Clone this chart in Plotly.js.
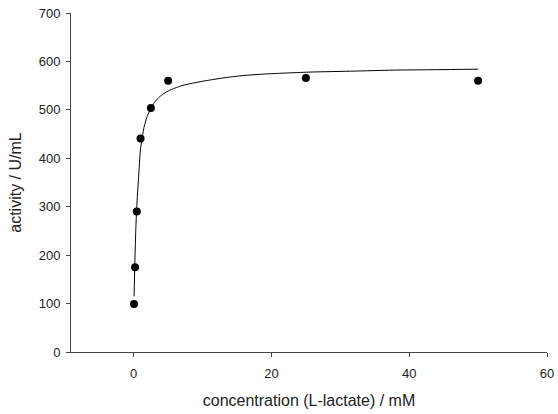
<!DOCTYPE html>
<html>
<head>
<meta charset="utf-8">
<script src="https://cdn.plot.ly/plotly-3.0.1.min.js"></script>
<style>html,body{margin:0;padding:0;background:#fff}#chart{width:558px;height:414px}</style>
</head>
<body>
<div id="chart"></div>
<script>
// measured data points
var concX = [0.05, 0.2, 0.45, 1, 2.5, 5, 25, 50];
var activityY = [99, 175, 290, 441, 504, 560, 566, 560];
// fitted curve
var fitX = [0.06, 0.15, 0.3, 0.45, 0.7, 1.0, 1.5, 2.0, 2.5, 3.0, 3.6, 4.2, 5.0, 6.0, 7.0, 8.5, 10, 13, 16, 19, 25.6, 32, 37.5, 44, 50];
var fitY = [115, 175, 250, 302, 358, 420, 464, 488, 503, 515, 525, 532, 539, 545, 550, 555, 559, 566, 571, 574, 578, 580, 582, 583, 584];
var xTicks = [0, 20, 40, 60];
var yTicks = [0, 100, 200, 300, 400, 500, 600, 700];

var traces = [
  {x: fitX, y: fitY, type: 'scatter', mode: 'lines',
   line: {color: '#000', width: 1, shape: 'spline', smoothing: 0.5}, hoverinfo: 'skip'},
  {x: concX, y: activityY, type: 'scatter', mode: 'markers',
   marker: {color: '#000', size: 8}}
];
var fam = 'Liberation Sans, Arial, sans-serif';
var layout = {
  width: 558, height: 414,
  margin: {l: 70.5, r: 10.7, t: 13.3, b: 61.7},
  paper_bgcolor: '#fff', plot_bgcolor: '#fff',
  showlegend: false,
  font: {family: fam, size: 13, color: '#222'},
  xaxis: {
    range: [-9.1, 60], tickvals: xTicks, ticktext: xTicks.map(String),
    showgrid: false, zeroline: false, showline: true, linecolor: '#444', linewidth: 1,
    ticks: 'outside', ticklen: 4, tickcolor: '#444', ticklabelstandoff: 5,
    tickfont: {family: fam, size: 13, color: '#222'},
    title: {text: 'concentration (L-lactate) / mM', font: {family: fam, size: 16, color: '#222'}, standoff: 15}
  },
  yaxis: {
    range: [0, 700], tickvals: yTicks, ticktext: yTicks.map(String),
    showgrid: false, zeroline: false, showline: true, linecolor: '#444', linewidth: 1,
    ticks: 'outside', ticklen: 4, tickcolor: '#444', ticklabelstandoff: 3,
    tickfont: {family: fam, size: 13, color: '#222'},
    title: {text: 'activity / U/mL', font: {family: fam, size: 16, color: '#222'}, standoff: 13}
  }
};
Plotly.newPlot('chart', traces, layout, {displayModeBar: false, staticPlot: true});
</script>
</body>
</html>
